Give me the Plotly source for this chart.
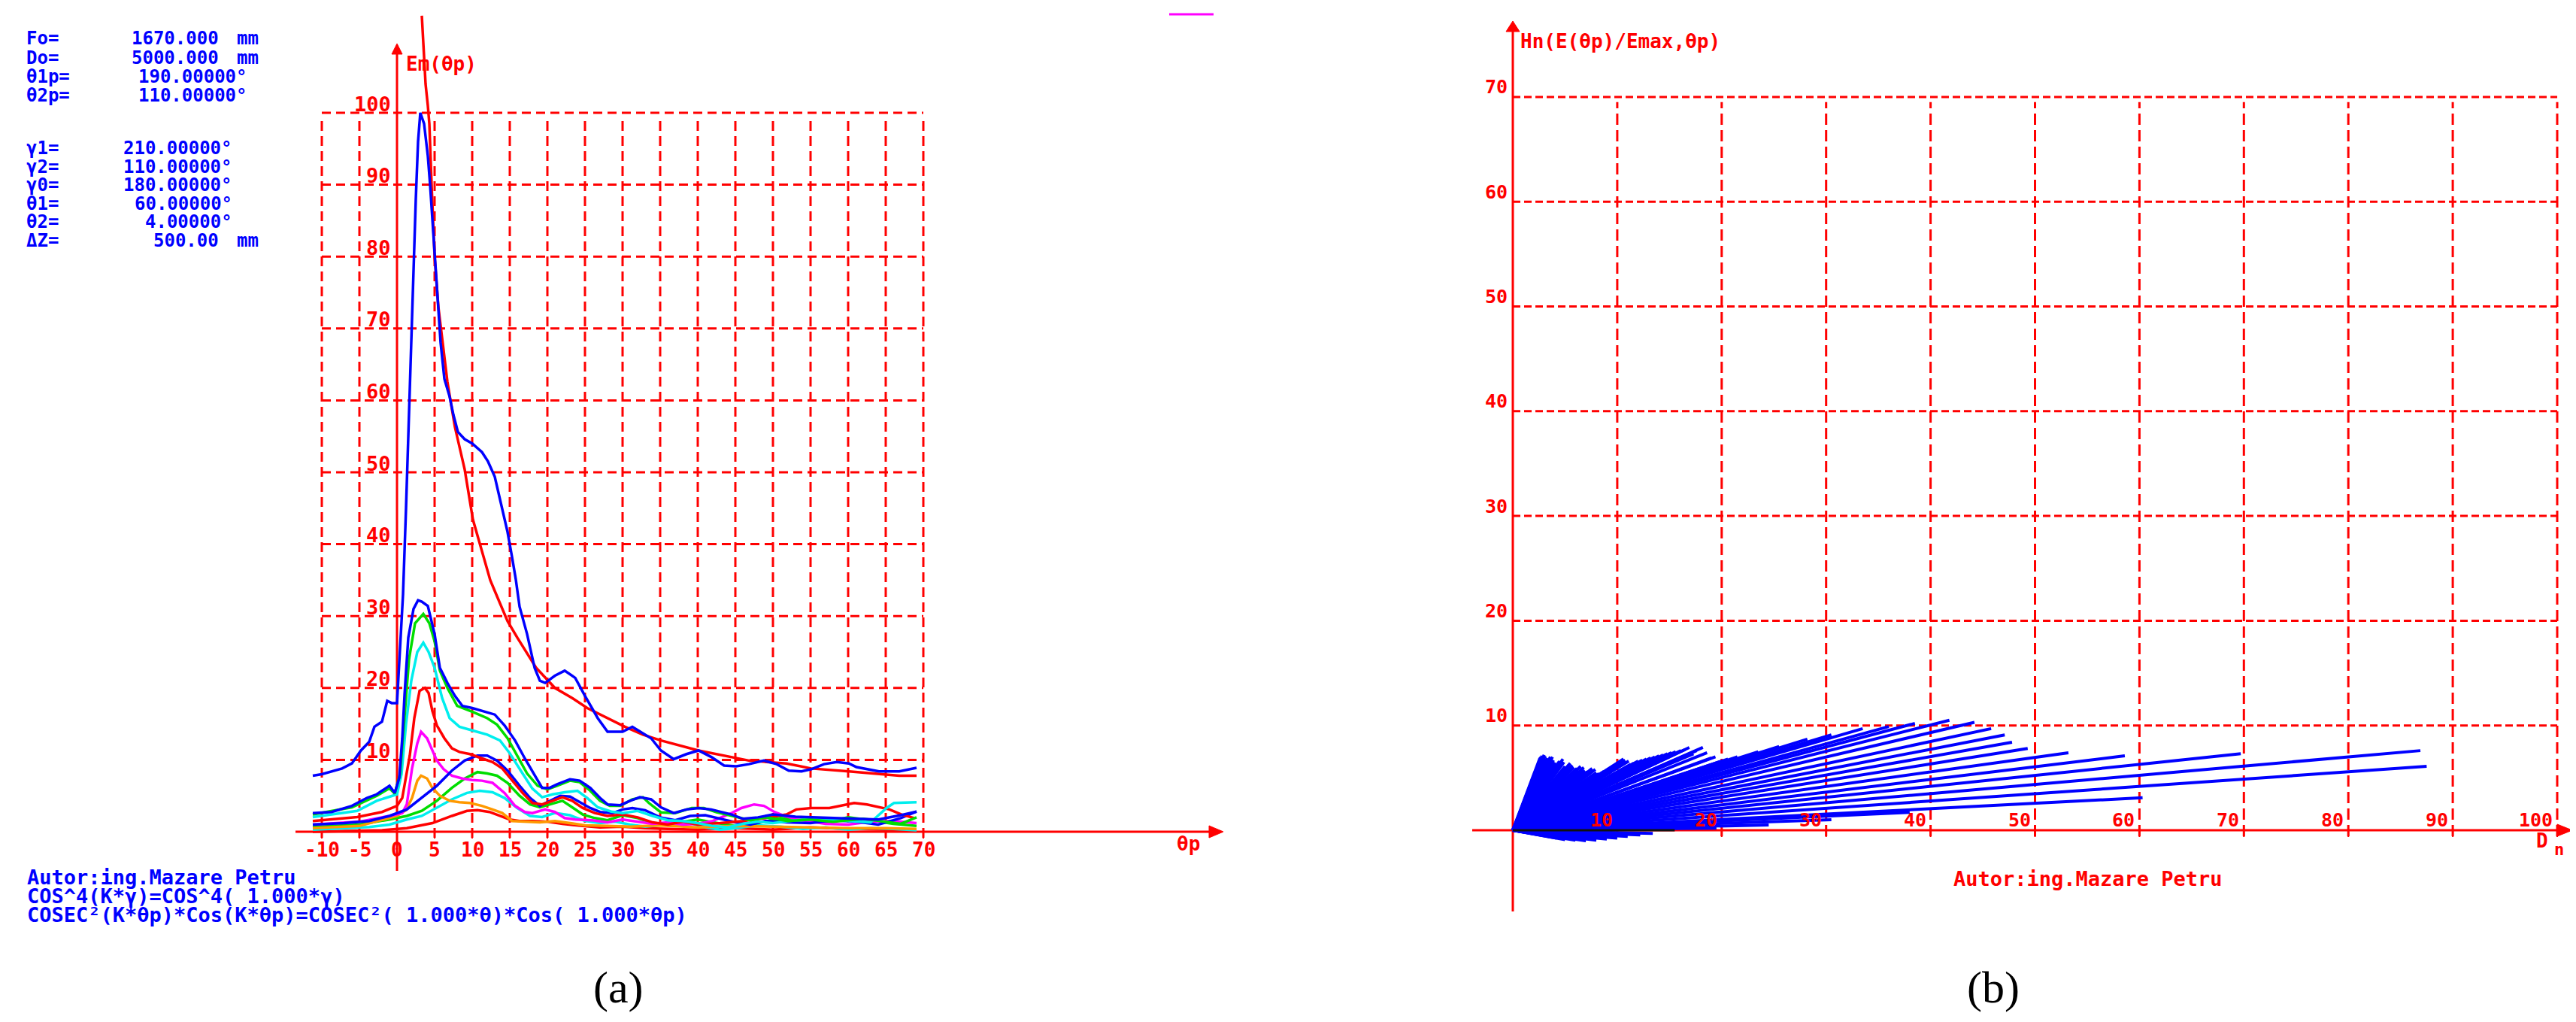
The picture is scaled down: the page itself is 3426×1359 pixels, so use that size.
import plotly.graph_objects as go

W, H = 3426, 1359

# ---------------- DATA : chart (a) ----------------
xa_ticks = [-10, -5, 0, 5, 10, 15, 20, 25, 30, 35, 40, 45, 50, 55, 60, 65, 70]
ya_ticks = [10, 20, 30, 40, 50, 60, 70, 80, 90, 100]

blue_main_x = [-11.2, -10, -7.3, -6, -4.8, -3.7, -3, -2, -1.3, -0.7, 0, 0.25, 0.8, 1.2, 1.5, 1.8, 2.0, 2.5, 2.8, 3.1,
               3.6, 4.1, 4.4, 4.8, 5.2, 5.5, 5.8, 6.3, 7, 7.5, 8.1, 9, 10, 11.3, 12.1, 13, 13.8, 14.7, 15.3, 15.8,
               16.3, 17.3, 18.3, 19.0, 19.7, 21, 22.3, 23.7, 25, 26.7, 28, 30, 31.3, 32.7, 33.8, 35.1, 36.8, 38.5,
               40.1, 41.8, 43.5, 45.1, 46.8, 48.8, 50.5, 52.1, 53.8, 55.1, 56.8, 58.5, 60.1, 61.1, 62.5, 64.1, 66.8,
               68.1, 69.1]
blue_main_y = [7.8, 8.0, 8.8, 9.5, 11.3, 12.5, 14.6, 15.3, 18.2, 17.9, 17.9, 23, 33, 45, 55, 65, 73, 88, 96, 100,
               98.5, 94, 90, 83.5, 76.5, 72, 68, 63, 60.5, 58, 55.6, 54.6, 54, 52.8, 51.5, 49.4, 45.9, 41.7, 38.2, 35.1,
               31.3, 27.5, 22.8, 21.0, 20.7, 21.7, 22.4, 21.4, 18.9, 15.8, 13.9, 13.9, 14.6, 13.7, 13.0, 11.3, 10.1, 10.8,
               11.3, 10.4, 9.2, 9.1, 9.4, 9.9, 9.4, 8.5, 8.4, 8.7, 9.4, 9.7, 9.5, 9.0, 8.7, 8.4, 8.4,
               8.7, 8.9]

red_ref_x = [3.3, 3.5, 3.8, 4.1, 4.3, 4.6, 5.0, 5.5, 6.1, 6.7, 7.7, 9, 10.1, 11.3, 12.4, 13, 14.7, 16, 17, 18.5, 21, 23.3,
             25.3, 28, 30.3, 32.7, 35.1, 40.1, 45.1, 46.8, 51.8, 55.1, 60.1, 63.5, 66.8, 69.1]
red_ref_y = [113.5, 109, 104, 101, 98.5, 90, 80, 73, 67.8, 62.6, 56.3, 50.4, 43.4, 38.9, 35, 33.5, 29.3, 27, 25.3, 22.8,
             20, 18.6, 17.2, 15.8, 14.6, 13.5, 12.7, 11.3, 10.2, 9.9, 9.5, 8.8, 8.4, 8.1, 7.8, 7.8]

blue2_x = [-11.2, -8.7, -6, -4, -2.7, -1, -0.3, 0.3, 0.7, 1.0, 1.5, 2.2, 2.8, 3.3, 4.1, 5.0, 5.7, 6.7, 7.7, 8.7, 10,
           11.3, 13, 14.3, 15.7, 17, 18.3, 19.3, 20.3, 21.3, 23, 24.3, 25.7, 27, 28, 29.7, 31, 32.3, 33.8, 35.1, 36.8,
           38.5, 40.1, 41.8, 44.5, 46, 48, 50, 53, 56, 60, 64, 67, 69.1]
blue2_y = [2.6, 2.75, 3.6, 4.7, 5.2, 6.4, 5.4, 7.5, 13, 19, 27, 31, 32.2, 32, 31.4, 27.5, 22.8, 20.7, 18.9, 17.5, 17.2,
           16.8, 16.3, 14.8, 12.7, 10.2, 7.8, 6.1, 6.1, 6.6, 7.3, 7.1, 6.1, 4.7, 3.8, 3.7, 4.3, 4.8, 4.5, 3.4, 2.6,
           3.1, 3.3, 3.1, 2.4, 1.8, 2.0, 2.4, 2.1, 2.0, 1.9, 1.7, 2.3, 2.8]

green_x = [-11.2, -6, -2.7, -1, -0.3, 0.4, 1.0, 1.6, 2.4, 3.5, 4.3, 5.0, 5.7, 6.7, 8, 10, 12, 13.3, 14.7, 16, 17.3,
           18.7, 20, 21.3, 23, 24.3, 25.7, 27, 28.3, 29.7, 31.3, 32.7, 33.5, 35.1, 37, 39.2, 40.8, 42.5, 44.5, 47,
           49, 52, 55, 58, 62, 65, 67, 69.1]
green_y = [2.4, 3.4, 5.0, 6.05, 5.3, 8, 16, 24, 29, 30.3, 29, 26.5, 22.4, 20, 17.5, 16.7, 15.8, 14.9, 13, 10.6, 8.1,
           6.4, 5.9, 6.4, 7.1, 6.9, 5.7, 4.3, 3.6, 3.6, 4.5, 4.8, 4.0, 2.7, 2.6, 3.3, 3.3, 2.7, 2.2, 1.6,
           2.0, 1.5, 1.7, 1.4, 1.8, 1.4, 1.1, 2.0]

cyan_x = [-11.2, -5.3, -2.7, -0.7, 0, 0.6, 1.2, 1.9, 2.7, 3.5, 4.2, 5, 6, 7, 8.3, 10, 12, 13.7, 15, 16.7, 18, 19.3,
          20.7, 22.3, 24, 25.3, 26.7, 28.5, 30, 32, 34, 36, 38, 40, 42, 44, 46, 48, 50, 53, 56, 60, 63, 65.1, 66.1,
          69.1]
cyan_y = [2.05, 2.9, 4.3, 5.0, 5.2, 8, 15, 21, 25, 26.3, 25, 22.8, 18.6, 15.8, 14.6, 14.1, 13.5, 12.7, 10.9, 8.1, 6.0,
          4.8, 5.2, 5.5, 5.7, 4.7, 3.4, 2.8, 2.6, 2.9, 2.2, 1.6, 1.5, 1.2, 0.8, 0.6, 1.1, 1.4, 1.2, 1.6, 1.8, 1.5,
          1.3, 3.3, 4.0, 4.1]

red2_x = [-11.2, -5.3, -2, 0, 0.7, 1.7, 2.3, 3, 3.7, 4.2, 4.7, 5.3, 6.3, 7.3, 8.3, 9.7, 11.3, 12.7, 14, 15.3, 16.7,
          18, 19.3, 20.7, 22, 23.3, 24.7, 26.3, 28, 30, 32, 34, 36, 38, 40, 43, 46, 49, 51.8, 53.1, 55.1, 57.5,
          59.1, 60.8, 62.5, 64.1, 65.5, 67.1, 68.8]
red2_y = [1.5, 2.05, 2.75, 3.6, 4.7, 10.6, 15.8, 19.6, 20, 19.3, 16.8, 14.8, 13, 11.6, 11.1, 10.8, 10.2, 9.7, 8.8,
          7.1, 5.4, 4.0, 3.8, 4.3, 4.8, 4.3, 3.3, 2.6, 2.2, 2.4, 2.0, 1.3, 1.0, 1.4, 1.0, 1.2, 1.5, 1.9, 2.4, 3.1,
          3.3, 3.3, 3.6, 4.0, 3.8, 3.4, 3.1, 2.4, 1.9]

magenta_x = [-11.2, -5, -1, 0.7, 1.3, 2, 2.7, 3.2, 4, 4.7, 5.3, 6.2, 7.3, 8.7, 10, 11.3, 12.7, 14.3, 15.7, 17, 18,
             19.7, 21, 22.3, 23.7, 26, 28, 30, 32, 34, 36, 38, 40, 42, 44.5, 45.8, 47.5, 48.8, 50.2, 51.5, 54, 57,
             60, 63, 66, 69.1]
magenta_y = [1.0, 1.4, 2.2, 2.6, 3.8, 8.8, 12.3, 13.9, 13, 11.3, 9.9, 8.7, 7.8, 7.4, 7.2, 7.1, 6.8, 5.4, 3.6, 2.75,
             2.6, 3.1, 2.75, 1.9, 1.7, 1.6, 1.3, 1.7, 1.4, 1.1, 1.3, 1.0, 1.1, 1.5, 2.6, 3.3, 3.8, 3.6, 2.75, 2.2,
             1.6, 1.1, 1.0, 1.4, 1.5, 1.2]

orange_x = [-11.2, -5, 0, 1.2, 2, 2.7, 3.2, 4, 4.7, 5.7, 7, 8.3, 9.7, 11.3, 12.7, 14, 15.3, 17, 19, 21, 23, 25, 28,
            31, 35, 40, 45, 50, 55, 60, 65, 69.1]
orange_y = [0.5, 0.8, 2.2, 3.0, 4.7, 7.1, 7.8, 7.4, 6.1, 5.0, 4.3, 4.1, 4.0, 3.6, 3.1, 2.6, 1.5, 1.4, 1.3, 1.5, 1.2,
            0.9, 0.8, 0.7, 0.9, 0.6, 0.8, 0.7, 0.6, 0.5, 0.5, 0.4]

blue3_x = [-11.2, -7, -3.7, -1, 1.3, 3.3, 5.3, 7.3, 9, 10.7, 12, 13.3, 14.7, 16.3, 17.7, 19, 20.3, 21.7, 23, 24.3,
           25.7, 27, 28.7, 30, 31.3, 33, 35, 37, 39, 41, 43, 45, 47, 49, 52, 55, 58, 61, 64, 67, 69.1]
blue3_y = [1.0, 1.2, 1.5, 2.2, 3.1, 4.7, 6.4, 8.5, 9.9, 10.6, 10.6, 9.9, 8.5, 6.4, 4.7, 3.6, 4.3, 5.0, 4.9, 4.1,
           3.3, 2.75, 2.6, 3.1, 3.3, 3.0, 2.0, 1.6, 2.2, 2.3, 1.8, 1.3, 1.0, 1.5, 1.3, 1.2, 1.6, 1.4, 1.0, 1.9, 2.8]

green2_x = [-11.2, -5, -1, 1.3, 3.3, 5.3, 7.3, 9, 10.7, 12, 13.3, 14.7, 16.3, 17.7, 19, 20.3, 22, 23.3, 24.7, 26.3,
            28, 30, 32, 34, 36, 38, 40, 42, 45, 48, 51, 54, 57, 60, 63, 66, 69.1]
green2_y = [0.66, 1.0, 1.7, 2.2, 2.9, 4.3, 6.1, 7.4, 8.3, 8.1, 7.8, 6.8, 5.0, 3.8, 3.4, 3.8, 4.3, 3.4, 2.4, 1.9,
            1.6, 2.3, 1.9, 1.2, 1.0, 1.4, 1.7, 1.3, 0.8, 1.2, 1.9, 1.7, 1.3, 2.0, 1.6, 1.1, 0.8]

cyan2_x = [-11.2, -3.7, -1, 1.3, 3.3, 5.3, 7.3, 9.3, 11, 12.7, 14.3, 16, 17.7, 19.3, 21, 23, 25, 27, 29, 31, 33, 35,
           37, 39, 41, 43, 45, 48, 51, 54, 57, 60, 63, 66, 69.1]
cyan2_y = [0.3, 0.66, 1.0, 1.7, 2.2, 3.3, 4.5, 5.4, 5.7, 5.5, 4.7, 3.3, 2.2, 2.05, 2.6, 2.3, 1.5, 1.2, 1.4, 1.0, 0.7,
           0.9, 1.6, 1.2, 0.6, 0.3, 0.5, 0.9, 0.7, 0.4, 0.6, 0.3, 0.5, 0.4, 0.2]

red3_x = [-11.2, -2, 1.3, 4.7, 7.3, 9.3, 10.7, 12.3, 13.7, 15, 16.3, 18, 20, 22, 24.7, 27, 30, 33, 36, 40, 45, 50, 55,
          60, 65, 69.1]
red3_y = [0.0, 0.2, 0.5, 1.2, 2.2, 2.9, 3.0, 2.75, 2.2, 1.7, 1.5, 1.5, 1.4, 1.1, 0.8, 0.6, 0.7, 0.5, 0.4, 0.3, 0.5,
          0.3, 0.6, 0.4, 0.3, 0.2]

# ---------------- DATA : chart (b) ----------------
xb_ticks = [10, 20, 30, 40, 50, 60, 70, 80, 90, 100]
yb_ticks = [10, 20, 30, 40, 50, 60, 70]

# end points (Dn, Hn) of the rays drawn from the origin
ray_D = [2.6, 2.7, 2.8, 2.9, 3.0, 3.1, 3.2, 3.3, 3.4, 3.5, 3.6, 3.7, 3.8, 3.9, 4.0, 4.15, 4.3, 4.4, 4.5, 4.65,
         4.8, 4.9, 5.0, 5.1, 5.2, 5.35, 5.5, 5.6, 5.7, 5.85, 6.0, 6.15, 6.3, 6.4, 6.5, 6.65, 6.8, 6.9, 7.0, 7.15,
         7.3, 7.45, 7.6, 7.75, 7.9, 8.0, 8.1, 8.25, 8.4, 8.55, 8.7, 8.85, 9.0, 9.15, 9.3, 9.45, 9.6, 9.75, 9.9,
         10.0, 10.1, 10.25, 10.4, 10.5, 10.6, 10.75, 10.9, 11.1, 11.3, 11.6, 12.0, 12.4, 12.8, 13.2, 13.6, 14.0,
         14.4, 14.8, 15.2, 15.6, 16.1, 16.5, 16.9, 17.3, 17.6, 18.2, 18.6, 19.0, 19.4, 20.0, 20.6,
         21.5, 23.5, 25.5, 28.2, 30.5, 33.5, 36.0, 38.5, 41.8, 44.2, 45.8, 47.1, 47.8,
         49.3, 53.2, 58.6, 69.7, 86.9, 87.5, 60.3, 38.0, 30.5, 24.5, 19.5,
         2.2, 2.8, 3.5, 4.2, 5.0, 6.0, 7.0, 8.0, 9.0, 10.0, 11.0, 12.2, 13.4]
ray_H = [6.9, 7.0, 7.1, 6.6, 7.2, 7.1, 6.8, 6.9, 6.6, 6.3, 7.0, 6.8, 7.0, 6.7, 6.5, 6.4, 6.3, 6.5, 6.6, 6.2,
         6.8, 6.5, 6.1, 6.0, 5.9, 6.2, 6.4, 5.8, 6.2, 6.0, 5.7, 5.9, 5.6, 5.4, 6.1, 5.8, 6.0, 5.7, 5.5, 5.6,
         5.4, 5.6, 5.9, 5.3, 5.8, 5.5, 5.2, 5.4, 5.3, 5.2, 5.6, 5.5, 5.7, 5.8, 5.9, 5.6, 6.1, 6.0, 6.2,
         6.3, 6.4, 6.2, 6.6, 6.5, 6.8, 6.7, 6.5, 6.6, 6.3, 6.4, 6.6, 6.7, 6.8, 6.9, 7.0, 7.1,
         7.2, 7.3, 7.4, 7.5, 7.6, 7.7, 7.9, 7.3, 7.6, 7.9, 7.4, 6.9, 7.0, 6.6, 6.8,
         7.0, 7.5, 8.0, 8.7, 9.1, 9.7, 9.9, 10.2, 10.5, 10.3, 9.7, 9.1, 8.4,
         7.8, 7.4, 7.1, 7.3, 7.6, 6.1, 3.1, 1.7, 1.0, 0.5, 0.2,
         -0.3, -0.4, -0.6, -0.75, -0.9, -0.95, -1.0, -0.95, -0.85, -0.75, -0.6, -0.45, -0.3]

# ---------------- layout calibration (pixels) ----------------
SPLIT = 1713
AX0, AXS = 520.0, 10.0       # chart a: px = AX0 + AXS * x
AY0, AYS = 1098.0, 9.56      # chart a: py = AY0 - AYS * y
BX0, BXS = 2004.0, 13.89     # chart b
BY0, BYS = 1096.0, 13.93

RED = "#ff0000"
BLUE = "#0000ff"
MONO = "DejaVu Sans Mono"


def ax_px(px):
    return (px - AX0) / AXS


def ay_px(py):
    return (AY0 - py) / AYS


def bx_px(px):
    return (px - BX0) / BXS


def by_px(py):
    return (BY0 - py) / BYS


fig = go.Figure()

series_a = [
    (red3_x, red3_y, RED),
    (cyan2_x, cyan2_y, "#00eeee"),
    (green2_x, green2_y, "#00dd00"),
    (orange_x, orange_y, "#ff9900"),
    (magenta_x, magenta_y, "#ff00ff"),
    (blue3_x, blue3_y, BLUE),
    (red2_x, red2_y, RED),
    (cyan_x, cyan_y, "#00eeee"),
    (green_x, green_y, "#00dd00"),
    (blue2_x, blue2_y, BLUE),
    (red_ref_x, red_ref_y, RED),
    (blue_main_x, blue_main_y, BLUE),
]
for xs, ys, col in series_a:
    fig.add_trace(go.Scatter(x=xs, y=ys, mode="lines", line=dict(color=col, width=3.5),
                             xaxis="x", yaxis="y", showlegend=False, hoverinfo="skip"))

rx, ry = [], []
for d, h in zip(ray_D, ray_H):
    rx += [0, d, None]
    ry += [0, h, None]
fig.add_trace(go.Scatter(x=rx, y=ry, mode="lines", line=dict(color=BLUE, width=4),
                         xaxis="x2", yaxis="y2", showlegend=False, hoverinfo="skip"))

shapes = []
annotations = []


def line(x0, y0, x1, y1, ref, color=RED, width=3, dash=None, layer="below"):
    xr, yr = ("x", "y") if ref == "a" else (("x2", "y2") if ref == "b" else ("paper", "paper"))
    d = dict(type="line", xref=xr, yref=yr, x0=x0, y0=y0, x1=x1, y1=y1, layer=layer,
             line=dict(color=color, width=width))
    if dash:
        d["line"]["dash"] = dash
    shapes.append(d)


# ---- chart (a) grid & axes ----
xa_min, xa_max = xa_ticks[0], xa_ticks[-1]
for yv in ya_ticks:
    line(xa_min, yv, xa_max, yv, "a", dash="12px,7px")
for xv in xa_ticks:
    if xv != 0:
        line(xv, ay_px(AY0 + 8), xv, ya_ticks[-1] - 0.8, "a", dash="13px,7px")
    line(xv, 0, xv, ay_px(AY0 + 9), "a", width=2)
line(ax_px(385), 0, ax_px(1602), 0, "a", width=3)
line(0, ay_px(1150), 0, ay_px(62), "a", width=3)
shapes.append(dict(type="path", xref="x", yref="y", layer="above", fillcolor=RED, line=dict(color=RED, width=1),
                   path=f"M {ax_px(1619)},0 L {ax_px(1600)},{ay_px(AY0-8)} L {ax_px(1600)},{ay_px(AY0+8)} Z"))
shapes.append(dict(type="path", xref="x", yref="y", layer="above", fillcolor=RED, line=dict(color=RED, width=1),
                   path=f"M 0,{ay_px(50)} L {ax_px(AX0-7)},{ay_px(64)} L {ax_px(AX0+7)},{ay_px(64)} Z"))

# ---- chart (b) grid & axes ----
for yv in yb_ticks:
    line(0, yv, xb_ticks[-1], yv, "b", dash="10px,5px")
for xv in xb_ticks:
    line(xv, by_px(BY0 + 8), xv, yb_ticks[-1] - 0.5, "b", dash="15px,7px")
    line(xv, 0, xv, by_px(BY0 + 9), "b", width=2)
line(bx_px(1950), 0, bx_px(3395), 0, "b", width=3)
line(0, by_px(1204), 0, by_px(32), "b", width=3)
line(0, 0, 15.5, 0, "b", color="#101010", width=3, layer="above")
shapes.append(dict(type="path", xref="x2", yref="y2", layer="above", fillcolor=RED, line=dict(color=RED, width=1),
                   path=f"M {bx_px(3413)},0 L {bx_px(3393)},{by_px(BY0-8)} L {bx_px(3393)},{by_px(BY0+8)} Z"))
shapes.append(dict(type="path", xref="x2", yref="y2", layer="above", fillcolor=RED, line=dict(color=RED, width=1),
                   path=f"M 0,{by_px(20)} L {bx_px(BX0-9)},{by_px(34)} L {bx_px(BX0+9)},{by_px(34)} Z"))

# small magenta mark at the top
line(1547 / W, 1 - 11 / H, 1606 / W, 1 - 11 / H, "p", color="#ff00ff", width=3, layer="above")


def ptext(txt, px, py, color, size, xanchor="left", family=MONO, bold=True):
    annotations.append(dict(text=(f"<b>{txt}</b>" if bold else txt), x=px / W, y=1 - py / H,
                            xref="paper", yref="paper", xanchor=xanchor, yanchor="middle", showarrow=False,
                            font=dict(family=family, size=size, color=color)))


def dtext(txt, x, y, ref, color, size, xanchor="center", xshift=0, yshift=0):
    xr, yr = ("x", "y") if ref == "a" else ("x2", "y2")
    annotations.append(dict(text=f"<b>{txt}</b>", x=x, y=y, xref=xr, yref=yr, xanchor=xanchor,
                            yanchor="middle", showarrow=False, xshift=xshift, yshift=yshift,
                            font=dict(family=MONO, size=size, color=color)))


# ---- chart (a) texts ----
for xv in xa_ticks:
    dtext(str(xv), xv, 0, "a", RED, 26, yshift=-24)
for yv in ya_ticks:
    dtext(str(yv), ax_px(514), yv, "a", RED, 27, xanchor="right", yshift=12)
ptext("Em(θp)", 530, 77, RED, 26)
ptext("θp", 1572, 1114, RED, 26, xanchor="center")

params = [
    ("Fo=", "1670.000", "mm", 285, 43),
    ("Do=", "5000.000", "mm", 285, 69),
    ("θ1p=", "190.00000°", None, 323, 94),
    ("θ2p=", "110.00000°", None, 323, 119),
    ("γ1=", "210.00000°", None, 303, 189),
    ("γ2=", "110.00000°", None, 303, 214),
    ("γ0=", "180.00000°", None, 303, 238),
    ("θ1=", "60.00000°", None, 303, 263),
    ("θ2=", "4.00000°", None, 303, 287),
    ("ΔZ=", "500.00", "mm", 285, 312),
]
for lab, val, unit, vr, py in params:
    ptext(lab, 25, py, BLUE, 24)
    ptext(val, vr, py, BLUE, 24, xanchor="right")
    if unit:
        ptext(unit, 305, py, BLUE, 24)

ptext("Autor:ing.Mazare Petru", 26, 1158, BLUE, 27)
ptext("COS^4(K*γ)=COS^4( 1.000*γ)", 26, 1183, BLUE, 27)
ptext("COSEC²(K*θp)*Cos(K*θp)=COSEC²( 1.000*θ)*Cos( 1.000*θp)", 26, 1208, BLUE, 27)

# ---- chart (b) texts ----
for xv in xb_ticks:
    dtext(str(xv), xv, 0, "b", RED, 25, xanchor="right", xshift=-4, yshift=14)
for yv in yb_ticks:
    dtext(str(yv), bx_px(1999), yv, "b", RED, 25, xanchor="right", yshift=13)
ptext("Hn(E(θp)/Emax,θp)", 2012, 47, RED, 26)
ptext("D", 3373, 1110, RED, 26, xanchor="center")
ptext("n", 3395, 1121, RED, 22, xanchor="center")
ptext("Autor:ing.Mazare Petru", 2769, 1160, RED, 27, xanchor="center")

# ---- panel captions ----
ptext("(a)", 814, 1305, "black", 60, xanchor="center", family="Liberation Serif", bold=False)
ptext("(b)", 2643, 1305, "black", 60, xanchor="center", family="Liberation Serif", bold=False)

fig.update_layout(
    width=W, height=H, margin=dict(l=0, r=0, t=0, b=0),
    paper_bgcolor="white", plot_bgcolor="white", showlegend=False,
    xaxis=dict(domain=[0, SPLIT / W], range=[ax_px(0), ax_px(SPLIT)], visible=False, fixedrange=True),
    yaxis=dict(domain=[0, 1], range=[ay_px(H), ay_px(0)], visible=False, fixedrange=True),
    xaxis2=dict(domain=[SPLIT / W, 1], range=[bx_px(SPLIT), bx_px(W)], visible=False, fixedrange=True,
                anchor="y2"),
    yaxis2=dict(domain=[0, 1], range=[by_px(H), by_px(0)], visible=False, fixedrange=True, anchor="x2"),
    shapes=shapes, annotations=annotations,
)

fig.write_html("out.html")
